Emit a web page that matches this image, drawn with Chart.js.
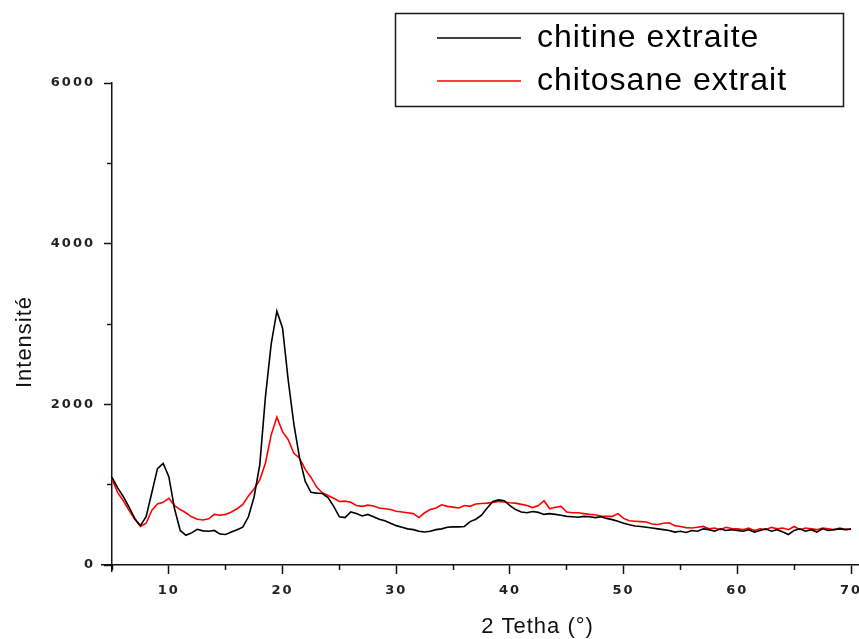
<!DOCTYPE html>
<html>
<head>
<meta charset="utf-8">
<style>
  html, body { margin: 0; padding: 0; background: #ffffff; }
  #wrap { width: 859px; height: 639px; position: relative; }
</style>
<script src="https://cdn.jsdelivr.net/npm/chart.js@4/dist/chart.umd.min.js"></script>
</head>
<body>
<div id="wrap"><canvas id="c" width="859" height="639"></canvas></div>
<script>
// ---- data ----
const angles = [
  5.0, 5.5, 6.0, 6.5, 7.0, 7.5, 8.0, 8.5, 9.0, 9.5,
  10.0, 10.5, 11.0, 11.5, 12.0, 12.5, 13.0, 13.5, 14.0, 14.5,
  15.0, 15.5, 16.0, 16.5, 17.0, 17.5, 18.0, 18.5, 19.0, 19.5,
  20.0, 20.5, 21.0, 21.5, 22.0, 22.5, 23.0, 23.5, 24.0, 24.5,
  25.0, 25.5, 26.0, 26.5, 27.0, 27.5, 28.0, 28.5, 29.0, 29.5,
  30.0, 30.5, 31.0, 31.5, 32.0, 32.5, 33.0, 33.5, 34.0, 34.5,
  35.0, 35.5, 36.0, 36.5, 37.0, 37.5, 38.0, 38.5, 39.0, 39.5,
  40.0, 40.5, 41.0, 41.5, 42.0, 42.5, 43.0, 43.5, 44.0, 44.5,
  45.0, 45.5, 46.0, 46.5, 47.0, 47.5, 48.0, 48.5, 49.0, 49.5,
  50.0, 50.5, 51.0, 51.5, 52.0, 52.5, 53.0, 53.5, 54.0, 54.5,
  55.0, 55.5, 56.0, 56.5, 57.0, 57.5, 58.0, 58.5, 59.0, 59.5,
  60.0, 60.5, 61.0, 61.5, 62.0, 62.5, 63.0, 63.5, 64.0, 64.5,
  65.0, 65.5, 66.0, 66.5, 67.0, 67.5, 68.0, 68.5, 69.0, 69.5,
  70.0
];
const chitine = [
  1090, 960, 850, 720, 580, 490, 600, 900, 1200, 1265,
  1100, 700, 430, 370, 400, 445, 425, 420, 430, 385,
  380, 410, 440, 470, 600, 850, 1250, 2100, 2750, 3160,
  2950, 2300, 1750, 1330, 1040, 905, 895, 890, 840, 730,
  600, 590, 660, 640, 610, 630, 600, 570, 550, 520,
  490, 470, 450, 440, 420, 410, 420, 440, 450, 470,
  475, 475, 480, 540, 570, 620, 710, 790, 810, 800,
  740, 690, 660, 650, 665, 655, 630, 640, 630, 620,
  605, 600, 595, 605, 600, 590, 600, 580, 565, 545,
  520, 500, 485, 480, 470, 460, 450, 440, 430, 410,
  420, 405, 430, 420, 450, 440, 420, 450, 430, 440,
  430, 420, 440, 410, 430, 450, 420, 440, 410, 380,
  430, 450, 420, 440, 410, 450, 430, 440, 450, 440,
  445
];
const chitosane = [
  1070, 900, 800, 680, 570, 480, 520, 680, 760, 780,
  830, 740, 690, 650, 600, 570, 560, 575, 630, 620,
  630, 660, 700, 750, 860, 950, 1060, 1270, 1620, 1840,
  1660, 1560, 1390, 1330, 1190, 1090, 970, 900, 865, 830,
  790, 795, 780, 740, 730, 745, 735, 710, 700, 690,
  670, 660, 650, 640, 590, 650, 690, 710, 750, 730,
  720, 710, 740, 730, 760, 765, 770, 780, 790, 785,
  775, 770, 755, 740, 715, 740, 800, 700, 720, 730,
  660, 650, 650, 640, 630, 625, 610, 605, 605, 640,
  580, 550, 545, 540, 535, 510, 505, 520, 525, 490,
  480, 465, 460, 470, 480, 450, 460, 440, 470, 455,
  450, 440, 460, 430, 450, 440, 470, 450, 460, 440,
  480, 440, 460, 450, 440, 460, 450, 440, 460, 445,
  450
];
const seriesNames = ['chitine extraite', 'chitosane extrait'];
const xTicks = [10, 20, 30, 40, 50, 60, 70];
const xMinorTicks = [5, 15, 25, 35, 45, 55, 65];
const yTicks = [0, 2000, 4000, 6000];
const yMinorTicks = [1000, 3000, 5000];
const xTitle = '2 Tetha (°)';
const yTitle = 'Intensité';

// ---- chart ----
const toPoints = (ys) => angles.map((a, i) => ({ x: a, y: ys[i] }));
const tickFont = { family: 'DejaVu Sans', size: 13, weight: 'bold' };
const titleFont = { family: 'Liberation Sans', size: 22, lineHeight: 1 };
const AXIS = '#111111';

const layoutFix = {
  id: 'layoutFix',
  afterLayout(chart) {
    const lg = chart.legend;
    if (lg) {
      lg.left = 426; lg.top = 11; lg.right = 859; lg.bottom = 250;
      lg.width = lg.right - lg.left; lg.height = lg.bottom - lg.top;
    }
    // shift axis title anchors (pixel mapping was already configured)
    const x = chart.scales.x;
    x.left = 102; x.right = 973; x.width = x.right - x.left;
    const y = chart.scales.y;
    y.bottom = y.bottom + 36; y.height = y.bottom - y.top;
    const ym = chart.scales.ym;
    ym.bottom = ym.bottom + 6; ym.height = ym.bottom - ym.top;
  },
  beforeDraw(chart) { chart.ctx.letterSpacing = '1px'; },
  afterDatasetsDraw(chart) { chart.ctx.letterSpacing = '2px'; },
  afterDraw(chart) {
    const ctx = chart.ctx;
    ctx.letterSpacing = '0px';
    ctx.save();
    ctx.strokeStyle = '#1a1a1a';
    ctx.lineWidth = 1.5;
    ctx.strokeRect(395.5, 13.5, 448, 93);
    ctx.restore();
  }
};

new Chart(document.getElementById('c'), {
  type: 'line',
  data: {
    datasets: [
      { label: seriesNames[0], data: toPoints(chitine), borderColor: '#000000', backgroundColor: '#000000',
        borderWidth: 1.6, pointRadius: 0, tension: 0, fill: false },
      { label: seriesNames[1], data: toPoints(chitosane), borderColor: '#ff0000', backgroundColor: '#ff0000',
        borderWidth: 1.6, pointRadius: 0, tension: 0, fill: false }
    ]
  },
  options: {
    responsive: false,
    animation: false,
    devicePixelRatio: 1,
    layout: { padding: { left: 0, top: 83, right: 8, bottom: 0 } },
    plugins: {
      tooltip: { enabled: false },
      legend: {
        position: 'chartArea',
        align: 'start',
        labels: {
          usePointStyle: true,
          pointStyle: 'line',
          pointStyleWidth: 84,
          padding: 11,
          color: '#000000',
          font: { family: 'Liberation Sans', size: 32 }
        }
      }
    },
    scales: {
      x: {
        type: 'linear', position: 'bottom', min: 5, max: 70,
        afterBuildTicks: (s) => { s.ticks = xTicks.map(v => ({ value: v })); },
        afterFit: (s) => { s.height = 74; s.paddingLeft = 0; s.paddingRight = 0; },
        ticks: { z: 1, padding: 9, autoSkip: false, maxRotation: 0, color: '#222222', font: tickFont,
                 callback: (v) => String(v) },
        grid: { display: true, drawOnChartArea: false, drawTicks: true, tickLength: 9, tickColor: AXIS, tickWidth: 1.5 },
        border: { display: true, color: AXIS, width: 1.5 },
        title: { display: true, text: xTitle, color: '#111111', font: titleFont, padding: { top: 0, bottom: 1 } }
      },
      xm: {
        type: 'linear', axis: 'x', position: { y: 0 }, min: 5, max: 70,
        afterBuildTicks: (s) => { s.ticks = xMinorTicks.map(v => ({ value: v })); },
        ticks: { display: false },
        grid: { display: true, drawOnChartArea: false, drawTicks: true, tickLength: 5, tickColor: AXIS, tickWidth: 1.5 },
        border: { display: false }
      },
      y: {
        type: 'linear', position: 'left', min: 0, max: 6000,
        afterBuildTicks: (s) => { s.ticks = yTicks.map(v => ({ value: v })); },
        afterFit: (s) => { s.width = 112; s.paddingTop = 0; s.paddingBottom = 0; },
        ticks: { z: 1, padding: 9, autoSkip: false, color: '#222222', font: tickFont,
                 callback: (v) => String(v) },
        grid: { display: true, drawOnChartArea: false, drawTicks: true, tickLength: 8, tickColor: AXIS, tickWidth: 1.5 },
        border: { display: false },
        title: { display: true, text: yTitle, color: '#111111', font: titleFont, padding: { top: 14, bottom: 0 } }
      },
      ym: {
        type: 'linear', axis: 'y', position: { x: 5 }, min: 0, max: 6000,
        afterBuildTicks: (s) => { s.ticks = yMinorTicks.map(v => ({ value: v })); },
        ticks: { display: false },
        grid: { display: true, drawOnChartArea: false, drawTicks: true, tickLength: 4, tickColor: AXIS, tickWidth: 1.5 },
        border: { display: true, color: AXIS, width: 1.5 }
      }
    }
  },
  plugins: [layoutFix]
});
</script>
</body>
</html>
